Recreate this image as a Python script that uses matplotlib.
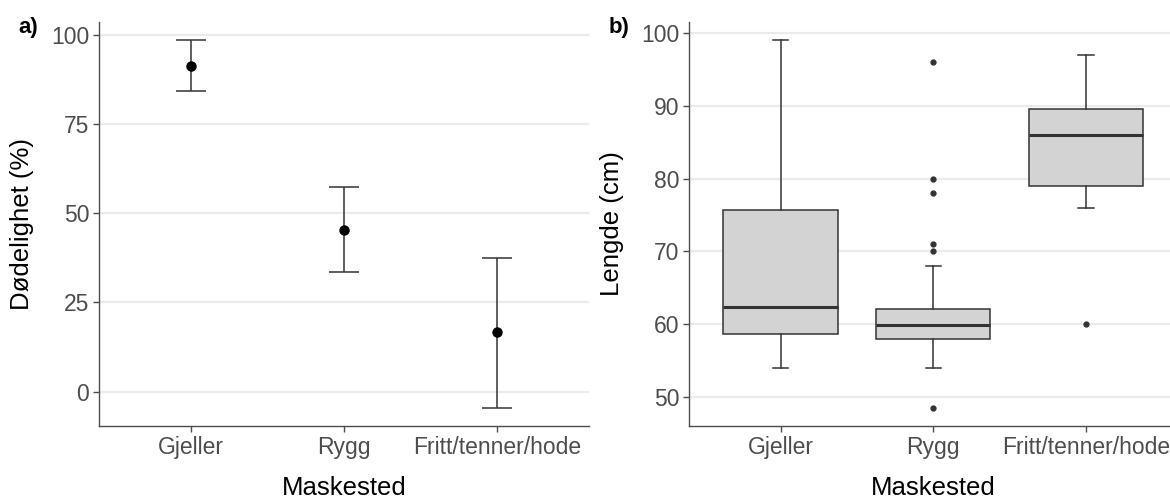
import matplotlib.pyplot as plt
import numpy as np

# mortality by mesh position (mean with confidence interval)
steder = ['Gjeller', 'Rygg', 'Fritt/tenner/hode']
dodelighet = [91.3, 45.3, 16.6]
ci_lav = [84.2, 33.4, -4.5]
ci_hoy = [98.5, 57.4, 37.6]

# fish length per mesh position (box summary)
lengde_q1 = [58.6, 58.0, 79.0]
lengde_med = [62.3, 59.8, 86.0]
lengde_q3 = [75.7, 62.0, 89.5]
lengde_whislo = [54.0, 54.0, 76.0]
lengde_whishi = [99.0, 68.0, 97.0]
lengde_fliers = [[], [96.0, 80.0, 78.0, 71.0, 70.0, 48.5], [60.0]]

plt.rcParams['font.family'] = ['Liberation Sans', 'DejaVu Sans']

GRID = '#ebebeb'
AXCOL = '#4d4d4d'
TXT = '#4d4d4d'


def style_axes(ax):
   for s in ['top', 'right']:
      ax.spines[s].set_visible(False)
   for s in ['left', 'bottom']:
      ax.spines[s].set_color(AXCOL)
      ax.spines[s].set_linewidth(1.0)
   ax.yaxis.grid(True, color=GRID, linewidth=1.6)
   ax.xaxis.grid(False)
   ax.set_axisbelow(True)
   ax.tick_params(axis='both', colors=AXCOL, labelcolor=TXT,
                  labelsize=16.5, length=4, width=1.0, pad=3)


fig = plt.figure(figsize=(11.7, 5.01), dpi=100)

# panel a) error bars
ax1 = fig.add_axes([99 / 1170, 75 / 501, 490 / 1170, 404 / 501])
x = np.arange(1, len(steder) + 1)
d = np.array(dodelighet)
yerr = [d - np.array(ci_lav), np.array(ci_hoy) - d]
ax1.errorbar(x, d, yerr=yerr, fmt='none', ecolor='#333333',
             elinewidth=1.1, capsize=0, zorder=2)
# caps of width 0.2 in data units
for xi, lo, hi in zip(x, ci_lav, ci_hoy):
   ax1.hlines([lo, hi], xi - 0.1, xi + 0.1, color='#333333', lw=1.1, zorder=2)
ax1.plot(x, d, 'o', color='black', markersize=6.5, zorder=3)
ax1.set_xlim(0.4, 3.6)
lo_all, hi_all = min(ci_lav), max(ci_hoy)
pad = 0.05 * (hi_all - lo_all)
ax1.set_ylim(lo_all - pad, hi_all + pad)
ax1.set_yticks([0, 25, 50, 75, 100])
ax1.set_xticks(x)
ax1.set_xticklabels(steder)
style_axes(ax1)
ax1.set_xlabel('Maskested', fontsize=18.5, labelpad=12.5)
ax1.set_ylabel('Dødelighet (%)', fontsize=18.5, labelpad=12)
fig.text(18 / 1170, 1 - 33 / 501, 'a)', fontsize=16, fontweight='bold')

# panel b) boxplots
ax2 = fig.add_axes([689 / 1170, 75 / 501, 488.5 / 1170, 404 / 501])
stats = []
for i in range(len(steder)):
   stats.append({'med': lengde_med[i], 'q1': lengde_q1[i], 'q3': lengde_q3[i],
                 'whislo': lengde_whislo[i], 'whishi': lengde_whishi[i],
                 'fliers': lengde_fliers[i], 'label': steder[i]})
ax2.bxp(stats, positions=x, widths=0.75, capwidths=0.1, patch_artist=True,
        boxprops=dict(facecolor='#d3d3d3', edgecolor='#333333', linewidth=1.1),
        medianprops=dict(color='#333333', linewidth=2.2),
        whiskerprops=dict(color='#333333', linewidth=1.1),
        capprops=dict(color='#333333', linewidth=1.1),
        flierprops=dict(marker='o', markerfacecolor='#333333',
                        markeredgecolor='#333333', markersize=3.5))
ax2.set_xlim(0.4, 3.6)
all_vals = lengde_whislo + lengde_whishi + [v for f in lengde_fliers for v in f]
lo_all, hi_all = min(all_vals), max(all_vals)
pad = 0.05 * (hi_all - lo_all)
ax2.set_ylim(lo_all - pad, hi_all + pad)
ax2.set_yticks([50, 60, 70, 80, 90, 100])
ax2.set_xticks(x)
ax2.set_xticklabels(steder)
style_axes(ax2)
ax2.set_xlabel('Maskested', fontsize=18.5, labelpad=12.5)
ax2.set_ylabel('Lengde (cm)', fontsize=18.5, labelpad=12)
fig.text(609 / 1170, 1 - 33 / 501, 'b)', fontsize=16, fontweight='bold')

fig.savefig('out.png', dpi=100)
